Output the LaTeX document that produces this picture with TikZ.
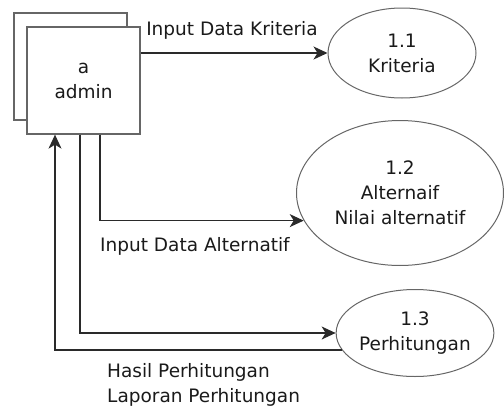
\documentclass[tikz,border=0pt]{standalone}
\usepackage{fontspec}
\setmainfont{DejaVu Sans}
\usetikzlibrary{arrows.meta,calc,shapes.geometric}
\definecolor{ln}{HTML}{2A2A2A}
\definecolor{bx}{HTML}{666666}
\definecolor{tx}{HTML}{1A1A1A}
\begin{document}
\begin{tikzpicture}[x=1pt,y=-1pt,
  every node/.style={font=\fontsize{18.5}{25}\selectfont, text=tx},
  entbox/.style={draw=bx, line width=1.3pt, fill=white, minimum width=113pt, minimum height=107pt, inner sep=0pt, align=center},
  proc/.style={draw=bx, line width=1pt, ellipse, inner sep=0pt, align=center},
  flow/.style={draw=ln, line width=1.2pt, -{Stealth[length=14pt,width=13pt,inset=4pt]}},
  lbl/.style={inner sep=0pt}]
\useasboundingbox (0,0) rectangle (504,410);
\draw[bx, line width=1.3pt, fill=white] (14,13) rectangle (127,120);
\node[entbox] (admin) at (83.5,80.5) {a\\admin};
\node[proc, minimum width=148pt, minimum height=90pt] (e1) at (402,53) {1.1\\Kriteria};
\node[proc, minimum width=207pt, minimum height=145pt] (e2) at (400,193) {1.2\\Alternaif\\Nilai alternatif};
\node[proc, minimum width=150pt, minimum height=87pt] (e3) at (415,333) {1.3\\Perhitungan};
\draw[flow] (admin.east |- e1.west) -- (e1.west);
\draw[flow] ([xshift=16.5pt]admin.south) |- (e2.196);
\draw[flow] ([xshift=-3.5pt]admin.south) |- (e3.west);
\draw[flow] (e3.193) -| ([xshift=-28.5pt]admin.south);
\node[lbl] (l1) at (232,30) {Input Data Kriteria};
\node[lbl, anchor=west] (l2) at (100,246) {Input Data Alternatif};
\node[lbl, anchor=north west, align=left] (l3) at (107,363) {Hasil Perhitungan\\Laporan Perhitungan};
\end{tikzpicture}
\end{document}
